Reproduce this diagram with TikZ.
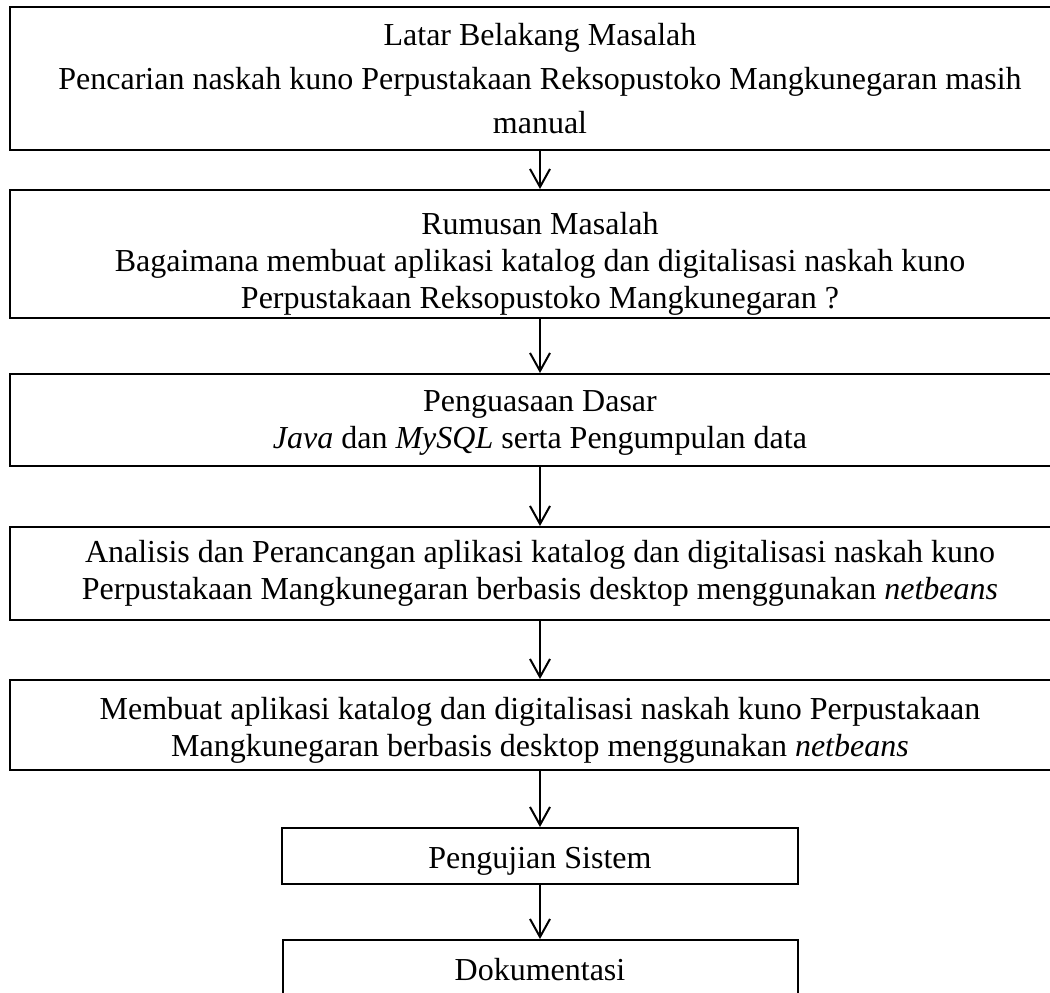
\documentclass[tikz,border=0pt]{standalone}
\usepackage{fontspec}
\setmainfont{Liberation Serif}
\usetikzlibrary{arrows.meta}

\begin{document}
\begin{tikzpicture}[x=0.5pt,y=-0.5pt,line width=1pt,-{Straight Barb[length=9pt,width=10pt]}]
    \clip (0,0) rectangle (1050,992);
    \tikzstyle{every node}=[draw,inner sep=0pt,align=center,minimum width=530pt,font=\fontsize{16}{18.5}\selectfont];

    \node[minimum height=71.5pt,font=\fontsize{16}{22}\selectfont] at (540,78.5) (b1) {Latar Belakang Masalah\\Pencarian naskah kuno Perpustakaan Reksopustoko Mangkunegaran masih\\manual};
    \node[minimum height=64pt] at (540,254) (b2) {\rule{0pt}{21pt}Rumusan Masalah\\Bagaimana membuat aplikasi katalog dan digitalisasi naskah kuno\\Perpustakaan Reksopustoko Mangkunegaran ?};
    \node[minimum height=46pt] at (540,420) (b3) {\rule{0pt}{13pt}Penguasaan Dasar\\\textit{Java} dan \textit{MySQL} serta Pengumpulan data};
    \node[minimum height=46.5pt] at (540,573.5) (b4) {Analisis dan Perancangan aplikasi katalog dan digitalisasi naskah kuno\\Perpustakaan Mangkunegaran berbasis desktop menggunakan \textit{netbeans}};
    \node[minimum height=45pt] at (540,725) (b5) {\rule{0pt}{16pt}Membuat aplikasi katalog dan digitalisasi naskah kuno Perpustakaan\\Mangkunegaran berbasis desktop menggunakan \textit{netbeans}};
    \node[minimum width=258pt,minimum height=28pt] at (540,856) (b6) {\rule{0pt}{16pt}Pengujian Sistem};
    \node[minimum width=257.5pt,minimum height=30pt] at (540,970) (b7) {Dokumentasi};

    \draw (b1) -- (b2);
    \draw (b2) -- (b3);
    \draw (b3) -- (b4);
    \draw (b4) -- (b5);
    \draw (b5) -- (b6);
    \draw (b6) -- (b7);
\end{tikzpicture}
\end{document}
